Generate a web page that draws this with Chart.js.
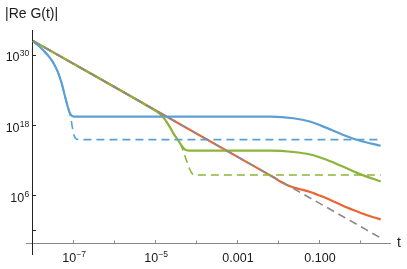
<!DOCTYPE html>
<html><head><meta charset="utf-8">
<script src="https://cdn.jsdelivr.net/npm/chart.js@4.4.1/dist/chart.umd.min.js"></script>
<style>html,body{margin:0;padding:0;background:#fff;overflow:hidden}#wrap{width:407px;height:269px}</style>
</head><body><div id="wrap"><canvas id="c" width="407" height="269"></canvas></div>
<script>
// ---- data ----
const grayT = [1e-8, 3.02];
const grayG = [2.884e32, 6.31e-2];

const blueT = [1e-8, 1.259e-8, 1.585e-8, 1.995e-8, 2.512e-8, 3.162e-8, 3.981e-8, 5.012e-8, 6.026e-8, 6.918e-8, 7.762e-8, 8.710e-8, 1e-7, 1.259e-7, 6.310e-3, 2.239e-2, 5.623e-2, 0.1445, 0.3715, 0.955, 3.02];
const blueG = [2.512e32, 7.079e31, 1.585e31, 3.162e30, 5.012e29, 4.467e28, 1.778e27, 1.585e25, 1e23, 2.512e21, 1.995e20, 5.012e19, 3.311e19, 3.236e19, 3.236e19, 1.778e19, 5.012e18, 3.981e17, 2.512e16, 2.512e15, 3.548e14];

const blueDashT = [1e-8, 1.259e-8, 1.585e-8, 1.995e-8, 2.512e-8, 3.162e-8, 3.981e-8, 5.012e-8, 6.026e-8, 6.918e-8, 7.943e-8, 8.511e-8, 9.016e-8, 9.550e-8, 1.023e-7, 1.122e-7, 1.259e-7, 1.585e-7, 3.02];
const blueDashG = [2.512e32, 7.079e31, 1.585e31, 3.162e30, 5.012e29, 4.467e28, 1.778e27, 1.585e25, 1e23, 2.512e21, 1e20, 1e19, 7.943e17, 7.943e16, 1.413e16, 5.623e15, 4.169e15, 3.981e15, 3.981e15];

const greenT = [1e-8, 3.981e-6, 6.310e-6, 8.913e-6, 1.259e-5, 1.585e-5, 1.862e-5, 2.239e-5, 2.630e-5, 3.020e-5, 3.467e-5, 4.169e-5, 5.012e-5, 6.310e-5, 1e-4, 6.310e-3, 2.239e-2, 5.754e-2, 0.1445, 0.3715, 0.955, 3.02];
const greenG = [2.884e32, 1.380e22, 1.995e21, 5.012e20, 9.333e19, 1.585e19, 3.162e18, 3.981e17, 5.012e16, 1.259e16, 3.162e15, 3.981e14, 8.913e13, 5.248e13, 5.012e13, 5.012e13, 3.020e13, 1.122e13, 1.413e12, 8.913e10, 5.012e9, 2.818e8];

const greenDashT = [1e-8, 3.981e-6, 6.310e-6, 8.913e-6, 1.259e-5, 1.585e-5, 1.862e-5, 2.239e-5, 2.630e-5, 3.020e-5, 3.467e-5, 3.890e-5, 4.467e-5, 5.129e-5, 5.888e-5, 6.761e-5, 7.586e-5, 8.511e-5, 1e-4, 3.02];
const greenDashG = [2.884e32, 1.380e22, 1.995e21, 5.012e20, 9.333e19, 1.585e19, 3.162e18, 3.981e17, 5.012e16, 1.259e16, 3.162e15, 1e15, 7.943e13, 5.012e12, 3.162e11, 2.818e10, 6.310e9, 3.802e9, 3.548e9, 3.548e9];

const orangeT = [1e-8, 5.012e-3, 7.943e-3, 1.047e-2, 1.413e-2, 1.862e-2, 3.162e-2, 5.754e-2, 8.913e-2, 0.1445, 0.2291, 0.3715, 0.6026, 0.955, 1.995, 3.02];
const orangeG = [2.884e32, 6.761e9, 1.096e9, 3.020e8, 1e8, 4.169e7, 1.413e7, 4.467e6, 1.413e6, 3.715e5, 8.511e4, 1.820e4, 4571, 1288, 213.8, 95.5];

// ticks
const xMajorTicks = [1e-7, 1e-5, 1e-3, 1e-1];
const xMajorLabels = ['10^\u22127', '10^\u22125', '0.001', '0.100'];
const xMinorTicks = [1e-6, 1e-4, 1e-2, 1];
const yTicks = [1e30, 1e18, 1e6, 1];
const yLabels = ['10^30', '10^18', '10^6', ''];

const BLUE = '#5c9fd3', GREEN = '#8cb43a', ORANGE = '#eb6434', GRAY = '#8a8a8a';
const X_MIN = 6.75e-9, X_MAX = 5.097, Y_MIN = 1.143e-4, Y_MAX = 2.099e34;
const X_AXIS_AT = 8.65e-3, Y_AXIS_AT = 1e-8;

const pts = (T, G) => T.map((t, i) => ({x: t, y: G[i]}));
const solid = (label, T, G, color) => ({label, data: pts(T, G), borderColor: color, borderWidth: 2.2, fill: false, cubicInterpolationMode: 'monotone'});
const dashed = (label, T, G, color) => ({label, data: pts(T, G), borderColor: color, borderWidth: 1.6, borderDash: [8, 5], fill: false, cubicInterpolationMode: 'monotone'});

const BASE_FONT = '12.5px "Liberation Sans", Arial, sans-serif';
const EXP_FONT = '8.5px "Liberation Sans", Arial, sans-serif';
function drawPow(ctx, text, x, y, align) {
  const parts = text.split('^');
  const base = parts[0], exp = parts[1];
  ctx.font = BASE_FONT;
  const wb = ctx.measureText(base).width;
  let we = 0;
  if (exp) { ctx.font = EXP_FONT; we = ctx.measureText(exp).width; }
  const total = wb + we;
  const left = align === 'center' ? x - total / 2 : align === 'right' ? x - total : x;
  ctx.textAlign = 'left';
  ctx.font = BASE_FONT; ctx.fillText(base, left, y);
  if (exp) { ctx.font = EXP_FONT; ctx.fillText(exp, left + wb + 0.3, y - 5); }
}

const labelPlugin = {
  id: 'powLabels',
  afterDraw(chart) {
    const ctx = chart.ctx, xs = chart.scales.x, ys = chart.scales.y;
    const axisY = ys.getPixelForValue(X_AXIS_AT);
    const axisX = xs.getPixelForValue(Y_AXIS_AT);
    ctx.save();
    ctx.fillStyle = '#1a1a1a';
    ctx.textBaseline = 'alphabetic';
    xMajorTicks.forEach((v, i) => drawPow(ctx, xMajorLabels[i], xs.getPixelForValue(v), axisY + 19, 'center'));
    yTicks.forEach((v, i) => { if (yLabels[i]) drawPow(ctx, yLabels[i], axisX - 4, ys.getPixelForValue(v) + 6, 'right'); });
    ctx.font = '14px "Liberation Sans", Arial, sans-serif';
    ctx.textAlign = 'left';
    ctx.fillText('|Re G(t)|', 5, 18);
    ctx.fillText('t', 397, 247);
    ctx.restore();
  }
};

new Chart(document.getElementById('c'), {
  type: 'line',
  data: {
    datasets: [
      dashed('t^-4', grayT, grayG, GRAY),
      dashed('green dashed', greenDashT, greenDashG, GREEN),
      dashed('blue dashed', blueDashT, blueDashG, BLUE),
      solid('blue', blueT, blueG, BLUE),
      solid('green', greenT, greenG, GREEN),
      solid('orange', orangeT, orangeG, ORANGE)
    ]
  },
  options: {
    responsive: false, animation: false, devicePixelRatio: 1,
    layout: {padding: {left: 26, right: 17, top: 30, bottom: 15}},
    plugins: {legend: {display: false}, tooltip: {enabled: false}, title: {display: false}},
    elements: {point: {radius: 0}, line: {borderCapStyle: 'butt', borderJoinStyle: 'round'}},
    scales: {
      x: {
        type: 'logarithmic', axis: 'x', min: X_MIN, max: X_MAX, position: {y: X_AXIS_AT},
        afterFit(s) { s.height = 0; },
        afterBuildTicks(s) { s.ticks = xMajorTicks.map(v => ({value: v})); },
        ticks: {display: false},
        grid: {drawOnChartArea: false, drawTicks: true, tickLength: -4, color: '#8a8a8a', lineWidth: 1},
        border: {display: true, color: '#8a8a8a', width: 1}
      },
      x2: {
        type: 'logarithmic', axis: 'x', min: X_MIN, max: X_MAX, position: {y: X_AXIS_AT},
        afterFit(s) { s.height = 0; },
        afterBuildTicks(s) { s.ticks = xMinorTicks.map(v => ({value: v})); },
        ticks: {display: false},
        grid: {drawOnChartArea: false, drawTicks: true, tickLength: -2.5, color: '#8a8a8a', lineWidth: 1},
        border: {display: false}
      },
      y: {
        type: 'logarithmic', axis: 'y', min: Y_MIN, max: Y_MAX, position: {x: Y_AXIS_AT},
        afterFit(s) { s.width = 0; },
        afterBuildTicks(s) { s.ticks = yTicks.map(v => ({value: v})); },
        ticks: {display: false},
        grid: {drawOnChartArea: false, drawTicks: true, tickLength: -4, color: '#222', lineWidth: 1},
        border: {display: true, color: '#222', width: 1}
      }
    }
  },
  plugins: [labelPlugin]
});
</script></body></html>
